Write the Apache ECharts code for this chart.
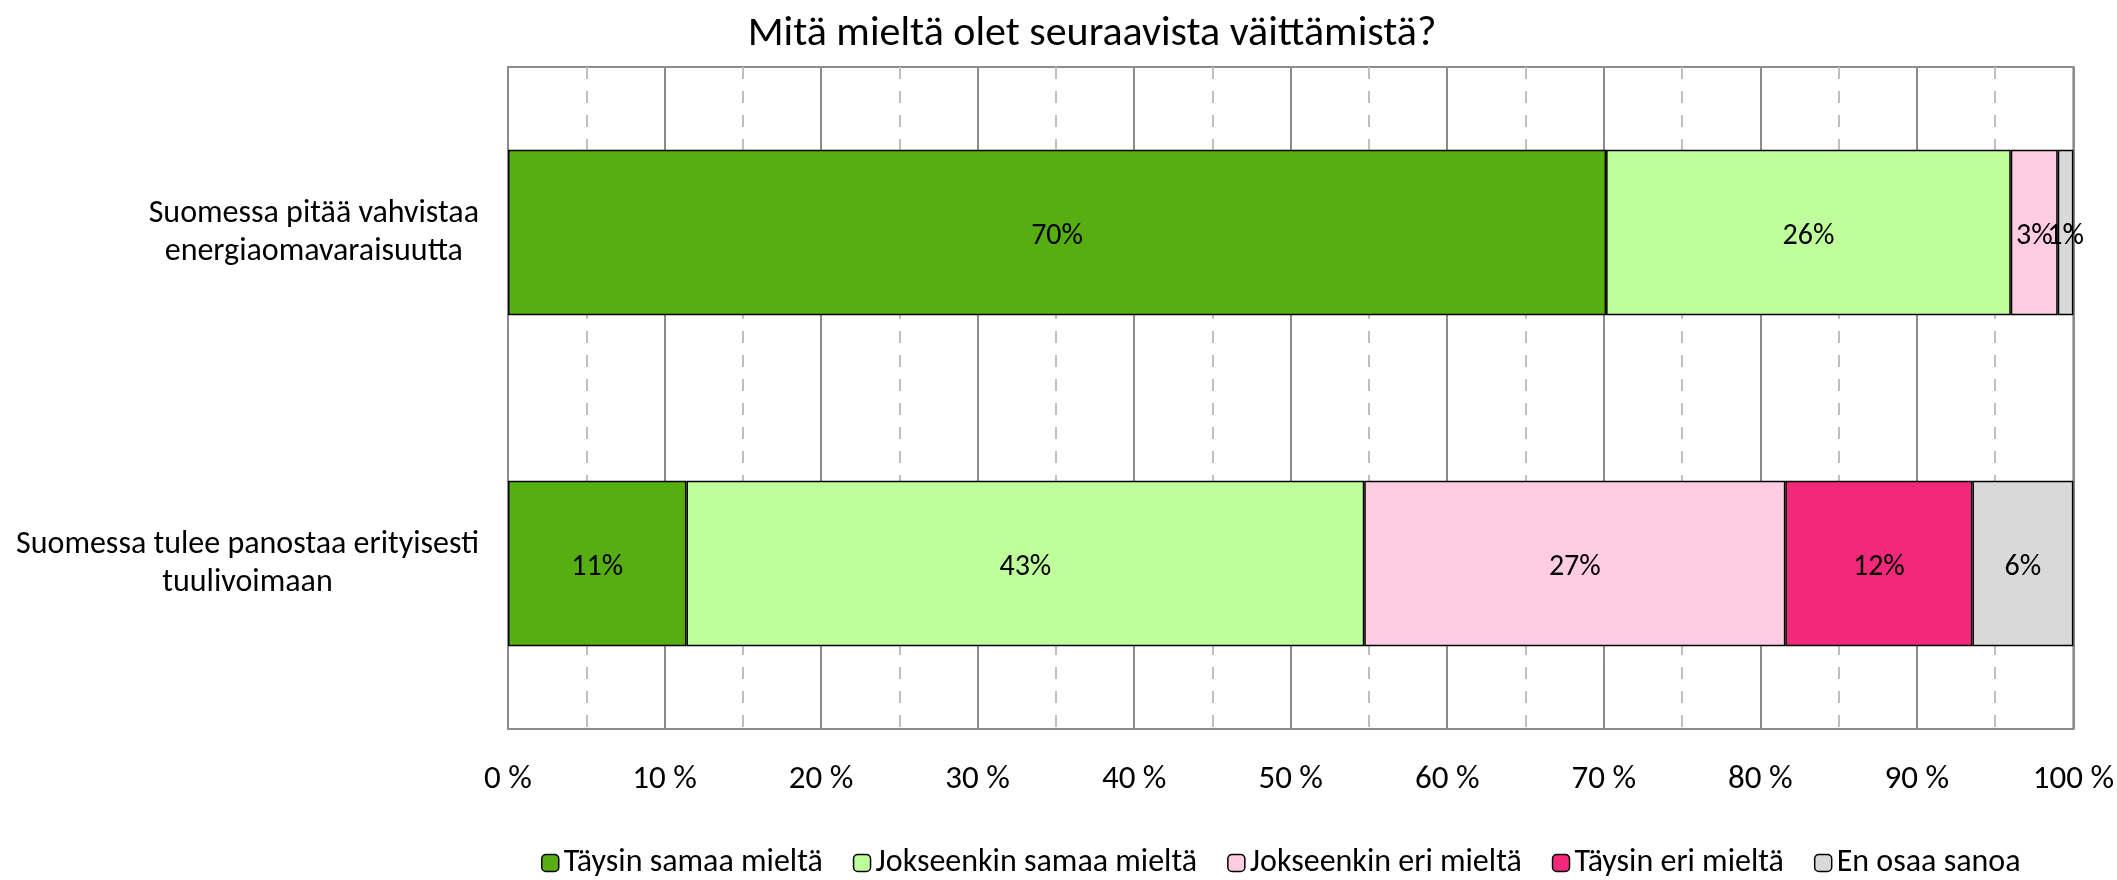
<!DOCTYPE html>
<html>
<head>
<meta charset="utf-8">
<script src="https://cdn.jsdelivr.net/npm/echarts@6/dist/echarts.min.js"></script>
<style>
  html, body { margin: 0; padding: 0; background: #fff; }
  #main { width: 2117px; height: 880px; }
</style>
</head>
<body>
<div id="main"></div>
<script>
var questions = ['Suomessa pitää vahvistaa\nenergiaomavaraisuutta', 'Suomessa tulee panostaa erityisesti\ntuulivoimaan']
var answers = ['Täysin samaa mieltä', 'Jokseenkin samaa mieltä', 'Jokseenkin eri mieltä', 'Täysin eri mieltä', 'En osaa sanoa']
var colors = ['#56AE10', '#BFFF9B', '#FFCCE1', '#F2297B', '#D9D9D9']
// share of answers per question, percent
var taysinSamaa = [70.15, 11.4]
var jokseenkinSamaa = [25.85, 43.3]
var jokseenkinEri = [3.0, 26.9]
var taysinEri = [0, 11.95]
var enOsaa = [1.0, 6.45]
var ticks = [0, 10, 20, 30, 40, 50, 60, 70, 80, 90, 100]

var values = [taysinSamaa, jokseenkinSamaa, jokseenkinEri, taysinEri, enOsaa]
var font = "Carlito, 'Liberation Sans', 'Noto Sans', sans-serif"

var series = []
answers.forEach(function (name, i) {
  series.push({
    name: name,
    type: 'bar',
    stack: 'total',
    barWidth: '50%',
    data: values[i].map(function (v) { return v === 0 ? null : v }),
    itemStyle: { color: colors[i], borderColor: '#000', borderWidth: 1.5 },
    label: {
      show: true,
      position: 'inside',
      offset: [0, 4],
      color: '#000',
      fontSize: 30,
      fontFamily: font,
      formatter: function (p) { return Math.round(p.value) + '%' }
    }
  })
})

var chart = echarts.init(document.getElementById('main'))
chart.setOption({
  animation: false,
  title: {
    text: 'Mitä mieltä olet seuraavista väittämistä?',
    left: 1087,
    textAlign: 'center',
    top: 8,
    textStyle: { fontSize: 42, fontWeight: 'normal', color: '#000', fontFamily: font }
  },
  legend: {
    data: answers,
    bottom: -4,
    left: 536,
    itemWidth: 17,
    itemHeight: 17,
    itemGap: 30,
    textStyle: { fontSize: 32, color: '#000', fontFamily: font },
    itemStyle: { borderColor: '#000', borderWidth: 1.5 }
  },
  grid: {
    left: 508, right: 43, top: 67, bottom: 151,
    show: true, borderColor: '#8c8c8c', borderWidth: 2,
    containLabel: false
  },
  xAxis: {
    type: 'value',
    min: 0, max: 100, interval: 10,
    axisLine: { show: true, lineStyle: { color: '#8c8c8c', width: 2 } },
    axisTick: { show: false },
    axisLabel: {
      margin: 34, color: '#000', fontSize: 33, fontFamily: font,
      formatter: function (v) { return ticks.indexOf(v) >= 0 ? v + ' %' : '' }
    },
    splitLine: { show: true, lineStyle: { color: '#8c8c8c', width: 2 } },
    minorTick: { show: false, splitNumber: 2 },
    minorSplitLine: { show: true, lineStyle: { color: '#c0c0c0', width: 2, type: [12, 12] } }
  },
  yAxis: {
    type: 'category',
    data: questions,
    inverse: true,
    axisLine: { show: false },
    axisTick: { show: false },
    axisLabel: {
      margin: 29,
      align: 'right',
      lineHeight: 38,
      formatter: function (v) { return v.split('\n').map(function (s) { return '{c|' + s + '}' }).join('\n') },
      rich: { c: { align: 'center', fontSize: 32, lineHeight: 38, color: '#000', fontFamily: font } }
    }
  },
  series: series
})
</script>
</body>
</html>
